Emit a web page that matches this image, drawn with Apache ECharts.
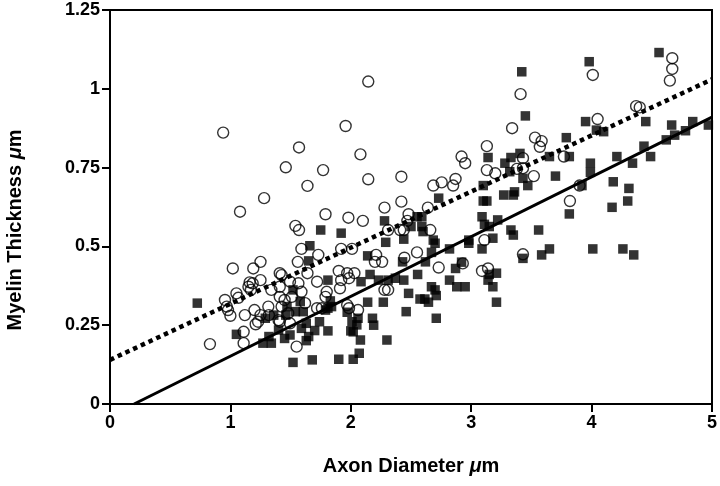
<!DOCTYPE html>
<html>
<head>
<meta charset="utf-8">
<script src="https://cdn.jsdelivr.net/npm/echarts@6/dist/echarts.min.js"></script>
<style>html,body{margin:0;padding:0;background:#fff}#c{width:720px;height:486px}</style>
</head>
<body>
<div id="c"></div>
<script>
// Axon diameter (µm), myelin thickness (µm)
const openCircles = [
[0.94,0.861],[1.57,0.814],[2.145,1.023],[1.957,0.882],[3.34,0.875],[3.13,0.818],[2.08,0.792],[3.41,0.983],
[4.01,1.044],[4.67,1.097],[4.67,1.063],[4.65,1.026],[4.37,0.945],[4.40,0.941],[4.05,0.904],[3.53,0.845],
[3.585,0.834],[3.57,0.816],[3.43,0.78],[3.43,0.748],[3.77,0.785],[3.52,0.723],[3.90,0.693],[3.82,0.644],
[3.43,0.475],[1.46,0.751],[1.77,0.742],[1.64,0.692],[1.28,0.653],[1.08,0.61],[1.79,0.602],[1.54,0.565],
[1.57,0.552],[1.59,0.492],[1.73,0.473],[1.56,0.451],[1.25,0.451],[1.19,0.43],[1.02,0.43],[1.64,0.415],
[1.41,0.415],[1.25,0.393],[1.16,0.386],[1.72,0.388],[2.92,0.785],[2.95,0.764],[3.13,0.742],[3.20,0.732],
[3.38,0.746],[2.145,0.713],[2.42,0.721],[2.685,0.693],[2.755,0.703],[2.87,0.714],[2.85,0.693],[2.42,0.642],
[2.28,0.623],[2.64,0.623],[1.98,0.591],[2.10,0.581],[2.48,0.602],[2.47,0.581],[2.31,0.552],[2.41,0.552],
[2.44,0.552],[2.66,0.552],[3.11,0.52],[1.92,0.492],[2.01,0.492],[2.21,0.473],[2.20,0.451],[2.26,0.451],
[2.445,0.464],[2.55,0.481],[2.73,0.433],[3.09,0.422],[3.14,0.43],[1.90,0.422],[1.97,0.415],[2.03,0.415],
[1.92,0.393],[1.985,0.399],[2.93,0.446],[1.91,0.367],[1.97,0.314],[1.985,0.304],[2.06,0.298],[2.28,0.362],
[2.31,0.362],[0.83,0.19],[0.955,0.33],[0.97,0.309],[1.0,0.28],[0.98,0.298],[1.05,0.351],[1.066,0.337],
[1.15,0.372],[1.17,0.362],[1.185,0.383],[1.34,0.362],[1.41,0.34],[1.425,0.309],[1.12,0.282],[1.20,0.298],
[1.25,0.282],[1.21,0.253],[1.315,0.309],[1.32,0.282],[1.11,0.229],[1.11,0.193],[1.425,0.409],[1.495,0.388],
[1.565,0.383],[1.59,0.356],[1.45,0.33],[1.51,0.34],[1.55,0.182],[1.76,0.304],[1.79,0.34],[1.41,0.261],
[1.495,0.256],[1.40,0.266],[1.48,0.288],[1.23,0.261],[1.62,0.32],[1.72,0.304],[1.80,0.356],[1.41,0.372]
];
const filledSquares = [
[3.42,1.054],[3.45,0.914],[3.98,1.086],[4.56,1.115],[4.45,0.896],[4.665,0.885],[4.84,0.896],[4.97,0.885],
[3.95,0.896],[4.04,0.869],[4.10,0.864],[3.79,0.845],[4.435,0.818],[4.62,0.838],[4.69,0.853],[4.78,0.867],
[3.65,0.785],[3.815,0.785],[3.99,0.764],[4.21,0.785],[4.34,0.764],[4.49,0.785],[3.43,0.716],[3.47,0.693],
[3.70,0.723],[3.99,0.735],[3.92,0.693],[4.18,0.705],[4.31,0.684],[3.815,0.603],[4.17,0.624],[4.30,0.644],
[3.56,0.552],[3.43,0.462],[3.585,0.473],[3.65,0.492],[4.01,0.492],[4.26,0.492],[4.35,0.473],[1.75,0.552],
[1.66,0.502],[1.65,0.454],[1.81,0.393],[3.14,0.782],[3.28,0.764],[3.405,0.795],[3.33,0.782],[3.32,0.737],
[3.10,0.693],[3.27,0.663],[3.36,0.673],[3.35,0.663],[2.73,0.653],[3.10,0.644],[3.13,0.644],[2.55,0.594],
[2.59,0.594],[2.28,0.581],[3.09,0.594],[3.22,0.584],[3.11,0.57],[3.15,0.563],[2.50,0.563],[2.59,0.563],
[2.60,0.547],[1.92,0.542],[2.29,0.513],[2.44,0.523],[2.685,0.52],[2.70,0.51],[2.98,0.52],[2.98,0.51],
[3.18,0.526],[3.33,0.552],[3.35,0.536],[2.14,0.47],[2.43,0.451],[2.67,0.481],[2.62,0.451],[2.82,0.492],
[3.09,0.492],[2.92,0.45],[2.87,0.43],[3.15,0.411],[3.21,0.415],[2.16,0.411],[2.23,0.393],[2.31,0.393],
[2.37,0.399],[2.44,0.393],[2.555,0.411],[2.085,0.388],[1.81,0.304],[1.83,0.327],[1.97,0.291],[2.06,0.272],
[2.14,0.323],[2.27,0.323],[2.18,0.272],[2.48,0.351],[2.67,0.372],[2.70,0.362],[2.71,0.344],[2.575,0.333],
[2.615,0.333],[2.645,0.323],[2.46,0.293],[2.71,0.272],[2.82,0.393],[2.88,0.372],[2.95,0.372],[3.14,0.393],
[3.18,0.372],[3.21,0.323],[1.81,0.232],[2.00,0.232],[2.05,0.251],[2.08,0.203],[2.30,0.203],[2.07,0.161],
[1.90,0.142],[2.02,0.142],[0.725,0.32],[1.05,0.221],[1.29,0.272],[1.32,0.214],[1.27,0.193],[1.34,0.193],
[1.40,0.235],[1.52,0.362],[1.58,0.325],[1.47,0.309],[1.46,0.282],[1.54,0.293],[1.52,0.132],[1.68,0.14],
[1.605,0.293],[1.36,0.282],[1.45,0.208],[1.495,0.219],[1.74,0.261],[1.63,0.256],[1.70,0.233],[1.59,0.24],
[1.65,0.214],[1.63,0.201],[1.79,0.298],[1.84,0.309],[2.01,0.261],[2.02,0.229],[2.19,0.25]
];
// regression lines (end points)
const fitOpen = [[0,0.14],[5,1.03]];
const fitFilled = [[0.2,0],[5,0.91]];
const xTicks = {min:0, max:5, interval:1};
const yTicks = {min:0, max:1.25, interval:0.25};

const chart = echarts.init(document.getElementById('c'), null, {renderer:'canvas'});
const FONT = 'Liberation Sans, Arial, Helvetica, sans-serif';
chart.setOption({
  animation:false,
  backgroundColor:'#fff',
  grid:{left:110, right:8, top:10, bottom:82, show:true, borderColor:'#000', borderWidth:2, backgroundColor:'transparent'},
  xAxis:{type:'value', min:xTicks.min, max:xTicks.max, interval:xTicks.interval,
    axisLine:{show:true, onZero:false, lineStyle:{color:'#000', width:2}},
    axisTick:{show:true, length:8, lineStyle:{color:'#000', width:2}},
    splitLine:{show:false},
    axisLabel:{color:'#000', fontFamily:FONT, fontWeight:'bold', fontSize:18, margin:10},
    name:'Axon Diameter {i|μ}m', nameLocation:'middle', nameGap:52,
    nameTextStyle:{color:'#000', fontFamily:FONT, fontWeight:'bold', fontSize:20,
      rich:{i:{fontStyle:'italic', fontWeight:'bold', fontSize:20, fontFamily:FONT, color:'#000'}}}
  },
  yAxis:{type:'value', min:yTicks.min, max:yTicks.max, interval:yTicks.interval,
    axisLine:{show:true, onZero:false, lineStyle:{color:'#000', width:2}},
    axisTick:{show:true, length:8, lineStyle:{color:'#000', width:2}},
    splitLine:{show:false},
    axisLabel:{color:'#000', fontFamily:FONT, fontWeight:'bold', fontSize:18, margin:10}
  },
  graphic:[{type:'text', x:15, y:230, rotation:Math.PI/2,
    style:{text:'Myelin Thickness {i|μ}m', fill:'#000', font:'bold 20px '+FONT, align:'center', verticalAlign:'middle',
      rich:{i:{fontStyle:'italic', fontWeight:'bold', fontSize:20, fontFamily:FONT, fill:'#000'}}}}],
  series:[
    {type:'line', data:fitOpen, symbol:'none', z:1,
      lineStyle:{color:'#000', width:4.5, type:[4.5,4], cap:'butt'}},
    {type:'line', data:fitFilled, symbol:'none', z:1,
      lineStyle:{color:'#000', width:3, type:'solid'}},
    {type:'scatter', data:filledSquares, symbol:'rect', symbolSize:9.5, z:2,
      itemStyle:{color:'#000'}},
    {type:'scatter', data:openCircles, symbol:'circle', symbolSize:11, z:3,
      itemStyle:{color:'rgba(255,255,255,0)', borderColor:'#000', borderWidth:1.4}}
  ]
});
</script>
</body>
</html>
